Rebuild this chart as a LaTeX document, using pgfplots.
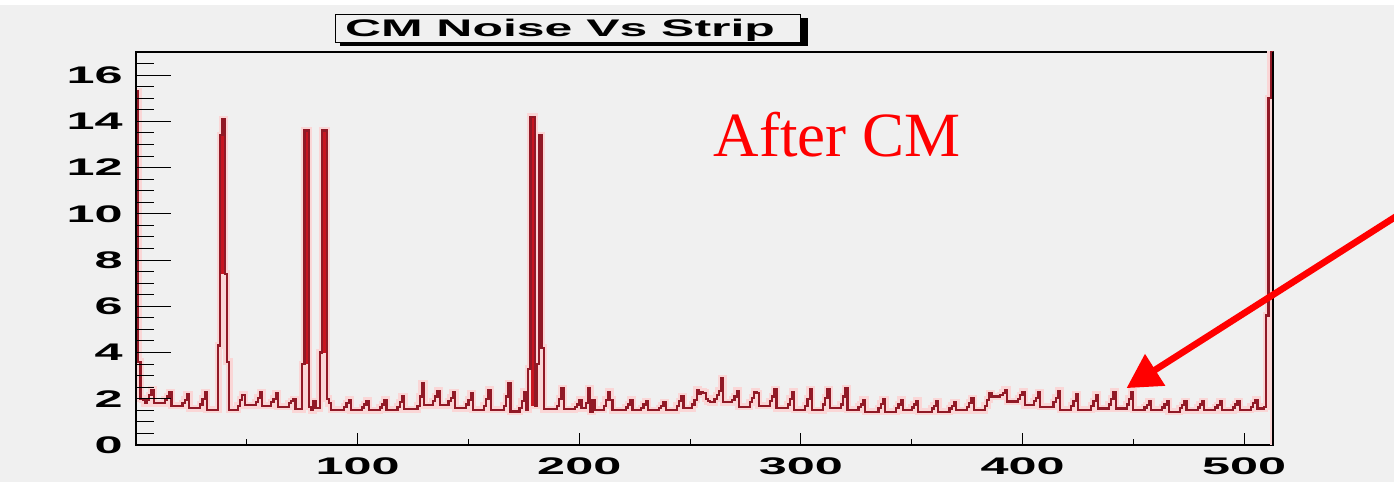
\documentclass[border=0pt]{standalone}
\usepackage{fontspec}
\setmainfont{Liberation Serif}
\newfontfamily\helv{Liberation Sans}
\usepackage{graphicx}
\usepackage{pgfplots}
\pgfplotsset{compat=1.18}
\usepackage{pgfplotstable}
\usetikzlibrary{arrows.meta}
\definecolor{bg}{RGB}{240,240,240}
\definecolor{histline}{RGB}{145,25,38}
\definecolor{haloc}{RGB}{250,214,214}
\definecolor{spk}{RGB}{200,20,32}
\newcommand\rl[1]{\scalebox{2.1}[1]{\helv\bfseries\fontsize{12}{14}\selectfont #1}}
\pgfplotstableread{
x y
0 15.3
1 3.6
2 2.0
3 1.95
4 1.8
5 1.95
6 2.15
7 2.38
8 1.8
13 1.95
14 2.1
15 2.27
16 1.7
21 1.8
22 1.95
23 2.2
24 1.6
29 1.75
30 2.0
31 2.27
32 1.52
37 4.3
38 13.4
39 14.1
40 7.4
41 3.6
42 1.52
46 1.7
47 1.95
48 2.17
49 1.73
54 1.85
55 2.05
56 2.27
57 1.7
61 1.85
62 2.0
63 2.24
64 1.65
69 1.8
70 1.9
71 1.98
72 1.55
75 3.5
76 13.6
78 1.65
79 1.5
80 1.9
81 1.6
83 4.0
84 13.6
86 2.0
87 1.8
88 1.52
94 1.65
95 1.8
96 1.95
97 1.5
102 1.62
103 1.75
104 1.92
105 1.5
110 1.62
111 1.75
112 1.95
113 1.52
118 1.65
119 1.85
120 2.1
121 1.55
127 1.7
128 2.1
129 2.67
130 1.73
134 1.9
135 2.1
136 2.35
137 1.73
141 1.9
142 2.05
143 2.27
144 1.6
149 1.75
150 1.95
151 2.24
152 1.52
157 1.7
158 2.0
159 2.38
160 1.52
166 1.7
167 2.1
168 2.67
169 1.45
173 1.6
174 1.9
175 2.3
176 1.52
177 3.3
178 14.2
180 1.7
181 3.5
182 13.4
183 4.2
184 1.55
190 1.7
191 2.0
192 2.45
193 1.55
198 1.65
199 1.75
200 1.95
201 1.6
203 1.8
204 2.45
205 1.44
206 1.95
207 1.52
211 1.7
212 1.95
213 2.3
214 1.95
215 1.5
221 1.62
222 1.75
223 1.95
224 1.5
228 1.6
229 1.75
230 1.9
231 1.5
236 1.6
237 1.7
238 1.85
239 1.5
244 1.7
245 1.9
246 2.1
247 1.6
251 1.75
252 1.95
253 2.38
254 2.2
255 2.3
256 2.25
257 2.0
258 1.9
259 1.85
261 2.0
262 2.15
263 2.35
264 2.89
265 1.85
269 1.95
270 2.1
271 2.35
272 1.66
277 1.85
278 2.05
279 2.3
280 2.24
281 1.7
286 1.9
287 2.1
288 2.4
289 1.59
294 1.75
295 2.0
296 2.3
297 1.52
302 1.7
303 2.0
304 2.4
305 1.5
310 1.75
311 2.05
312 2.4
313 1.59
318 1.75
319 2.1
320 2.45
321 1.52
326 1.65
327 1.75
328 1.95
329 1.44
335 1.6
336 1.78
337 1.98
338 1.44
343 1.6
344 1.75
345 1.95
346 1.5
350 1.62
351 1.75
352 1.92
353 1.44
359 1.58
360 1.7
361 1.88
362 1.44
367 1.58
368 1.7
369 1.85
370 1.5
375 1.65
376 1.82
377 2.03
378 1.5
383 1.7
384 1.95
385 2.24
386 2.1
390 2.15
391 2.25
392 2.38
393 1.88
398 2.0
399 2.15
400 2.3
401 1.73
405 1.9
406 2.05
407 2.27
408 1.66
414 1.85
415 2.05
416 2.35
417 1.52
422 1.7
423 1.9
424 2.2
425 1.52
431 1.7
432 1.9
433 2.17
434 1.58
439 1.75
440 2.0
441 2.3
442 1.58
447 1.75
448 2.0
449 2.3
450 1.52
455 1.62
456 1.72
457 1.88
458 1.52
463 1.62
464 1.75
465 1.9
466 1.44
471 1.6
472 1.72
473 1.88
474 1.5
479 1.62
480 1.75
481 1.9
482 1.5
487 1.62
488 1.72
489 1.88
490 1.5
495 1.62
496 1.75
497 1.9
498 1.52
503 1.65
504 1.8
505 1.95
506 1.58
509 1.65
510 5.6
511 15.0
512 18
513 0
}\histdata
\begin{document}
\begin{tikzpicture}
\useasboundingbox (-68pt,-23.5pt) rectangle (629pt,222.5pt);
\fill[white] (-68pt,-23.5pt) rectangle (629pt,222.5pt);
\fill[bg] (-68pt,-18.5pt) rectangle (629pt,220pt);
\begin{axis}[
  at={(0,0)}, anchor=south west,
  scale only axis, width=568.5pt, height=196.5pt,
  xmin=0, xmax=513, ymin=0, ymax=17,
  axis line style={black, line width=0.6pt},
  tick align=inside, xtick pos=bottom, ytick=\empty,
  xtick={100,200,300,400,500},
  minor xtick={50,150,250,350,450},
  major tick length=6pt, minor tick length=3pt,
  tick style={black, line width=0.5pt},
  xticklabels={\rl{100},\rl{200},\rl{300},\rl{400},\rl{500}},
  xticklabel style={anchor=north, inner sep=0pt, yshift=-6pt},
  clip=true,
]
\addplot[const plot, color=haloc, line width=3.5pt] table {\histdata};
% solid-looking spike tops
\addplot[fill=spk, draw=none] coordinates {(38,7.4) (38,13.4) (39,13.4) (39,14.1) (40,14.1) (40,7.4)};
\addplot[fill=spk, draw=none] coordinates {(76,3.5) (76,13.6) (78,13.6) (78,3.5)};
\addplot[fill=spk, draw=none] coordinates {(84,4.0) (84,13.6) (86,13.6) (86,4.0)};
\addplot[fill=spk, draw=none] coordinates {(178,1.7) (178,14.2) (180,14.2) (180,1.7)};
\addplot[fill=spk, draw=none] coordinates {(512,15.0) (512,18) (513,18) (513,15.0)};
\addplot[const plot, color=histline, line width=1.1pt] table {\histdata};
\node[red, anchor=base, font=\fontsize{31.5}{36}\selectfont] at (axis cs:316.4,12.49) {After CM};
\coordinate (atip) at (axis cs:446.9,2.46);
\coordinate (atail) at (axis cs:572,10.1);
\end{axis}
\begin{axis}[
  at={(0,0)}, anchor=south west,
  scale only axis, width=568.5pt, height=196.5pt,
  xmin=0, xmax=513, ymin=0, ymax=17,
  hide x axis,
  axis line style={black, line width=0.6pt},
  tick align=inside, ytick pos=left,
  ytick={0,2,4,6,8,10,12,14,16},
  minor ytick={0.5,1,...,16.5},
  major tick length=17.5pt, minor tick length=9pt,
  tick style={black, line width=0.5pt},
  yticklabels={\rl{0},\rl{2},\rl{4},\rl{6},\rl{8},\rl{10},\rl{12},\rl{14},\rl{16}},
  yticklabel style={anchor=east, inner sep=0pt, xshift=-6.5pt},
]
\end{axis}
\draw[red, line width=3.3pt, -{Triangle[length=17pt,width=18pt]}] (atail) -- (atip);
% title box
\fill[black] (102pt,199.5pt) rectangle (336pt,213.5pt);
\filldraw[fill=bg, draw=black, line width=0.5pt] (99.5pt,201pt) rectangle (332pt,215pt);
\node[anchor=center, inner sep=0pt] at (212pt,207.3pt) {\scalebox{2.08}[1]{\helv\bfseries\fontsize{12}{14}\selectfont CM Noise Vs Strip}};
\end{tikzpicture}
\end{document}
